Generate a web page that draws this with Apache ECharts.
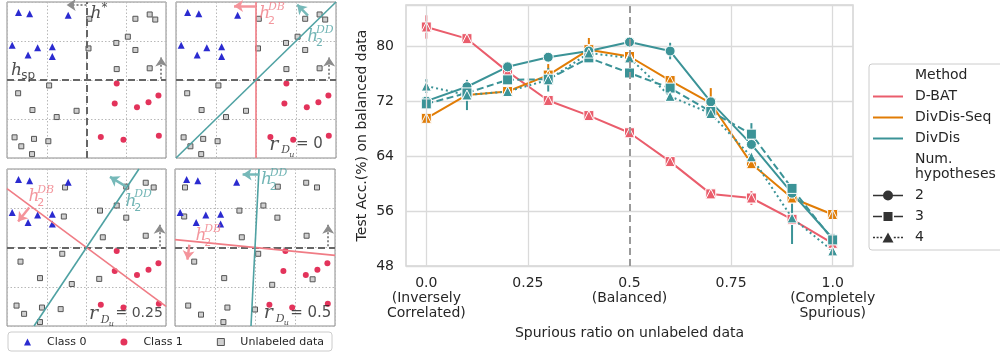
<!DOCTYPE html>
<html>
<head>
<meta charset="utf-8">
<script src="https://cdn.jsdelivr.net/npm/echarts@6/dist/echarts.min.js"></script>
<style>
  html, body { margin: 0; padding: 0; background: #fff; }
  #chart { width: 1000px; height: 354px; }
</style>
</head>
<body>
<div id="chart"></div>
<script>
// ---------- right panel: accuracy vs spurious ratio ----------
const ratios = [0, 0.1, 0.2, 0.3, 0.4, 0.5, 0.6, 0.7, 0.8, 0.9, 1.0];
const xTicks = [0, 0.25, 0.5, 0.75, 1.0];
const xTickText = ['0.0\n(Inversely\nCorrelated)', '0.25', '0.5\n(Balanced)', '0.75', '1.0\n(Completely\nSpurious)'];

const dbatAcc = [82.8, 81.1, 76.3, 72.1, 69.9, 67.4, 63.2, 58.5, 57.9, 54.8, 51.3];
const dbatErr = [1.7, 0.3, 0.3, 0.3, 0.4, 0.3, 0.3, 0.3, 1.0, 0.4, 0.3];
const seqAcc = [69.5, 72.9, 73.4, 75.8, 79.5, 78.5, 75.0, 71.7, 62.9, 57.9, 55.5];
const seqErr = [0.4, 0.3, 0.4, 1.6, 1.7, 0.4, 0.4, 2.2, 0.4, 0.5, 0.3];
const div2Acc = [72.0, 74.1, 77.0, 78.4, 79.3, 80.6, 79.3, 71.9, 65.7, 58.6, 52.0];
const div2Err = [0.3, 0.4, 0.4, 0.3, 0.3, 0.3, 1.2, 0.4, 0.5, 0.5, 0.4];
const div3Acc = [71.6, 73.2, 75.1, 75.2, 78.3, 76.1, 73.9, 70.5, 67.2, 59.3, 51.8];
const div3Err = [0.5, 0.3, 0.4, 0.4, 0.4, 0.4, 0.4, 0.3, 1.6, 0.7, 0.7];
const div4Acc = [74.2, 72.9, 73.4, 75.1, 79.0, 78.3, 72.7, 70.2, 63.9, 55.0, 50.2];
const div4Err = [1.0, 2.2, 0.6, 1.7, 0.4, 0.3, 0.4, 0.4, 0.4, 3.8, 0.3];

// ---------- left panels: toy 2D data ----------
const class0 = [[0.29, 3.73], [0.57, 3.70], [1.54, 3.66], [0.13, 2.89], [0.77, 2.83], [1.14, 2.85], [0.53, 2.64], [1.14, 2.60]];
const class1 = [[2.76, 1.91], [2.71, 1.40], [3.27, 1.30], [3.56, 1.43], [3.81, 1.60], [2.36, 0.54], [2.93, 0.47], [3.82, 0.57]];
const unlabeledA = [[2.07, 3.57], [3.23, 3.57], [3.59, 3.68], [3.73, 3.55], [3.04, 3.11], [2.75, 2.95], [2.05, 2.81], [3.23, 2.77], [2.76, 2.28], [3.59, 2.30],
  [0.28, 1.66], [1.06, 1.86], [0.64, 1.23], [1.75, 1.21], [1.25, 1.05], [0.19, 0.53], [0.68, 0.49], [1.04, 0.43], [0.36, 0.30], [0.63, 0.10]];
const unlabeledB = [[1.46, 3.53], [3.49, 3.65], [3.69, 3.53], [3.0, 3.55], [2.76, 3.07], [2.34, 2.94], [1.43, 2.79], [3.0, 2.76], [2.41, 2.26], [3.49, 2.30],
  [1.39, 1.84], [0.34, 1.64], [0.83, 1.22], [1.63, 1.07], [2.32, 1.20], [0.24, 0.52], [0.88, 0.47], [1.35, 0.43], [0.43, 0.31], [0.83, 0.10]];
const unlabeledC = [[0.25, 3.53], [2.57, 3.55], [3.28, 3.65], [3.55, 3.53], [2.21, 3.07], [1.61, 2.94], [0.23, 2.79], [2.56, 2.76], [1.67, 2.26], [3.29, 2.30],
  [2.08, 1.84], [0.48, 1.64], [1.23, 1.22], [2.43, 1.05], [3.44, 1.19], [0.33, 0.52], [1.31, 0.47], [0.65, 0.29], [2.0, 0.42], [1.21, 0.10]];
const unlabeledByPanel = [unlabeledA, unlabeledA, unlabeledB, unlabeledC];

// hypotheses: [panel, x1, y1, x2, y2, kind]
const panelLines = [
  [0, 2, 0, 2, 4, 'axis'],
  [0, 0, 2, 4, 2, 'axis'], [1, 0, 2, 4, 2, 'axis'], [2, 0, 2, 4, 2, 'axis'], [3, 0, 2, 4, 2, 'axis'],
  [1, 2, 0, 2, 4, 'db'], [1, 0, 0, 4, 4, 'dd'],
  [2, 0, 3.5, 4, 0.5, 'db'], [2, 0.68, 0, 3.32, 4, 'dd'],
  [3, 0, 2.2, 4, 1.8, 'db'], [3, 1.9, 0, 2.1, 4, 'dd']
];
const panelArrows = [
  [0, 2.0, 3.92, 1.5, 3.92, 'gray'], [0, 3.88, 2.03, 3.88, 2.58, 'gray'],
  [1, 2.0, 3.9, 1.45, 3.9, 'dbArrow'], [1, 3.3, 3.65, 3.03, 3.93, 'ddArrow'], [1, 3.83, 2.03, 3.83, 2.58, 'gray'],
  [2, 3.0, 3.55, 2.59, 3.8, 'ddArrow'], [2, 0.56, 3.02, 0.28, 2.66, 'dbArrow'], [2, 3.84, 2.03, 3.84, 2.58, 'gray'],
  [3, 2.11, 3.86, 1.69, 3.86, 'ddArrow'], [3, 0.36, 2.07, 0.31, 1.69, 'dbArrow'], [3, 3.83, 2.03, 3.83, 2.58, 'gray']
];
// text pieces: [panel, x, y, text, size, colour, font]
const annotations = [
  [0, 2.1, 3.7, 'h', 17, 'k', 'it'], [0, 2.38, 3.86, '*', 12, 'k', 'rm'],
  [0, 0.1, 2.24, 'h', 17, 'k', 'it'], [0, 0.36, 2.1, 'sp', 12, 'k', 'rm'],
  [1, 2.08, 3.7, 'h', 17, 'r', 'it'], [1, 2.3, 3.87, 'DB', 11, 'r', 'it'], [1, 2.3, 3.52, '2', 11, 'r', 'rm'],
  [1, 3.28, 3.12, 'h', 17, 't', 'it'], [1, 3.5, 3.29, 'DD', 11, 't', 'it'], [1, 3.5, 2.94, '2', 11, 't', 'rm'],
  [1, 2.33, 0.33, 'r', 19, 'k', 'it'], [1, 2.63, 0.19, 'D', 11, 'k', 'it'], [1, 2.83, 0.09, 'u', 8, 'k', 'it'], [1, 3.0, 0.35, '= 0', 15, 'k', 'rm'],
  [2, 0.54, 3.3, 'h', 17, 'r', 'it'], [2, 0.76, 3.47, 'DB', 11, 'r', 'it'], [2, 0.76, 3.12, '2', 11, 'r', 'rm'],
  [2, 2.98, 3.18, 'h', 17, 't', 'it'], [2, 3.2, 3.35, 'DD', 11, 't', 'it'], [2, 3.2, 3.0, '2', 11, 't', 'rm'],
  [2, 2.06, 0.3, 'r', 19, 'k', 'it'], [2, 2.36, 0.16, 'D', 11, 'k', 'it'], [2, 2.56, 0.06, 'u', 8, 'k', 'it'], [2, 2.73, 0.32, '= 0.25', 14, 'k', 'rm'],
  [3, 2.15, 3.72, 'h', 17, 't', 'it'], [3, 2.37, 3.89, 'DD', 11, 't', 'it'], [3, 2.37, 3.54, '2', 11, 't', 'rm'],
  [3, 0.51, 2.3, 'h', 17, 'r', 'it'], [3, 0.73, 2.47, 'DB', 11, 'r', 'it'], [3, 0.73, 2.12, '2', 11, 'r', 'rm'],
  [3, 2.22, 0.32, 'r', 19, 'k', 'it'], [3, 2.52, 0.18, 'D', 11, 'k', 'it'], [3, 2.72, 0.08, 'u', 8, 'k', 'it'], [3, 2.88, 0.34, '= 0.5', 15, 'k', 'rm']
];

const RED = '#ea5d6c', ORANGE = '#e17c05', TEAL = '#3b9397', INK = '#262626';
const textColors = { k: '#222', r: '#f07c85', t: '#4fa2a3' };
const lineStyles = {
  axis: { color: '#666', width: 2, type: [7, 4] },
  db: { color: '#f07c85', width: 1.6, type: 'solid' },
  dd: { color: '#4fa2a3', width: 1.6, type: 'solid' },
  gray: { color: '#8c8c8c', width: 2, type: [2, 2] },
  dbArrow: { color: '#f4949b', width: 2.5, type: 'solid' },
  ddArrow: { color: '#76b9b9', width: 2.5, type: 'solid' }
};

const panelBoxes = [
  { left: 7, top: 2, width: 159, height: 156 },
  { left: 176, top: 2, width: 160, height: 156 },
  { left: 7, top: 169, width: 159, height: 157 },
  { left: 175, top: 169, width: 160, height: 157 }
];

const grids = panelBoxes.map(b => Object.assign({ show: true, borderColor: '#8c8c8c', borderWidth: 1, backgroundColor: '#fff' }, b));
grids.push({ left: 406, top: 5, width: 447, height: 261, show: true, borderColor: '#d4d4d4', borderWidth: 1.5 });

const xAxes = [], yAxes = [];
for (let p = 0; p < 4; p++) {
  const ax = {
    gridIndex: p, type: 'value', min: 0, max: 4, interval: 1,
    axisLine: { show: false }, axisTick: { show: false }, axisLabel: { show: false },
    splitLine: { lineStyle: { color: '#b8b8b8', type: [1.5, 2], width: 1 } }
  };
  xAxes.push(Object.assign({}, ax));
  yAxes.push(Object.assign({}, ax));
}
xAxes.push({
  gridIndex: 4, type: 'value', min: -0.05, max: 1.05, interval: 0.05,
  axisLine: { show: false }, axisTick: { show: false }, splitLine: { show: false },
  axisLabel: {
    color: INK, fontSize: 14, lineHeight: 15, margin: 10,
    formatter: v => {
      const i = xTicks.findIndex(t => Math.abs(t - v) < 1e-6);
      return i >= 0 ? xTickText[i] : '';
    }
  },
  name: 'Spurious ratio on unlabeled data', nameLocation: 'middle', nameGap: 60,
  nameTextStyle: { color: INK, fontSize: 14 }
});
yAxes.push({
  gridIndex: 4, type: 'value', min: 48, max: 86, interval: 8,
  axisLine: { show: false }, axisTick: { show: false },
  axisLabel: { color: INK, fontSize: 14, margin: 12, showMaxLabel: false },
  splitLine: { lineStyle: { color: '#dadada', width: 1.3 } },
  name: 'Test Acc.(%) on balanced data', nameLocation: 'middle', nameGap: 37,
  nameTextStyle: { color: INK, fontSize: 14 }
});

const series = [];

// ---- left panels ----
for (let p = 0; p < 4; p++) {
  const mk = [];
  panelLines.filter(l => l[0] === p).forEach(l => {
    mk.push([{ coord: [l[1], l[2]], symbol: 'none', lineStyle: lineStyles[l[5]] }, { coord: [l[3], l[4]], symbol: 'none' }]);
  });
  panelArrows.filter(a => a[0] === p).forEach(a => {
    mk.push([{ coord: [a[1], a[2]], symbol: 'none', lineStyle: lineStyles[a[5]] }, { coord: [a[3], a[4]], symbol: 'arrow' }]);
  });
  series.push({
    type: 'line', xAxisIndex: p, yAxisIndex: p, data: [], z: 1, silent: true,
    markLine: { silent: true, symbolSize: 9, label: { show: false }, emphasis: { disabled: true }, data: mk }
  });
  series.push({
    name: 'Unlabeled data', type: 'scatter', xAxisIndex: p, yAxisIndex: p, z: 3,
    data: unlabeledByPanel[p], symbol: 'rect', symbolSize: 5,
    itemStyle: { color: '#d0d0d0', borderColor: '#555', borderWidth: 1, opacity: 1 }
  });
  series.push({
    name: 'Class 0', type: 'scatter', xAxisIndex: p, yAxisIndex: p, z: 3,
    data: class0, symbol: 'triangle', symbolSize: 7,
    itemStyle: { color: '#2b2bd0', opacity: 1 }
  });
  series.push({
    name: 'Class 1', type: 'scatter', xAxisIndex: p, yAxisIndex: p, z: 3,
    data: class1, symbol: 'circle', symbolSize: 6,
    itemStyle: { color: '#e3335b', opacity: 1 }
  });
  series.push({
    type: 'scatter', xAxisIndex: p, yAxisIndex: p, z: 5, silent: true,
    symbolSize: 1, itemStyle: { color: 'rgba(0,0,0,0)' },
    data: annotations.filter(a => a[0] === p).map(a => ({
      value: [a[1], a[2]],
      label: {
        show: true, position: 'inside', align: 'left', verticalAlign: 'middle',
        formatter: a[3], fontSize: a[4], color: textColors[a[5]],
        fontFamily: a[6] === 'it' ? 'DejaVu Serif' : 'DejaVu Sans',
        fontStyle: a[6] === 'it' ? 'italic' : 'normal'
      }
    }))
  });
}

// ---- right panel ----
series.push({
  type: 'line', xAxisIndex: 4, yAxisIndex: 4, data: [], z: 1, silent: true,
  markLine: {
    silent: true, symbol: 'none', label: { show: false }, emphasis: { disabled: true },
    data: xTicks.map(t => ({
      xAxis: t,
      lineStyle: t === 0.5 ? { color: '#9a9a9a', width: 2, type: [7, 4] } : { color: '#dadada', width: 1.3, type: 'solid' }
    }))
  }
});

function errBars(vals, errs, color) {
  return {
    type: 'custom', xAxisIndex: 4, yAxisIndex: 4, silent: true, z: 2,
    encode: { x: 0, y: [1, 2] },
    data: ratios.map((r, i) => [r, vals[i] - errs[i], vals[i] + errs[i]]),
    renderItem: (params, api) => {
      const lo = api.coord([api.value(0), api.value(1)]);
      const hi = api.coord([api.value(0), api.value(2)]);
      return { type: 'line', shape: { x1: lo[0], y1: lo[1], x2: hi[0], y2: hi[1] }, style: { stroke: color, lineWidth: 2 } };
    }
  };
}
function accLine(name, vals, color, symbol, dash) {
  return {
    name, type: 'line', xAxisIndex: 4, yAxisIndex: 4, z: 2,
    data: ratios.map((r, i) => [r, vals[i]]),
    symbol, symbolSize: 10, showAllSymbol: true,
    lineStyle: { color, width: 2, type: dash },
    itemStyle: { color, borderColor: '#fff', borderWidth: 1 },
    emphasis: { disabled: true }
  };
}
function triOverlay(vals, color) {
  return {
    type: 'scatter', xAxisIndex: 4, yAxisIndex: 4, z: 2,
    data: ratios.map((r, i) => [r, vals[i]]),
    symbol: 'triangle', symbolSize: 10,
    itemStyle: { color, borderColor: '#fff', borderWidth: 1, opacity: 1 },
    emphasis: { disabled: true }
  };
}

series.push(errBars(dbatAcc, dbatErr, RED));
series.push(accLine('D-BAT', dbatAcc, RED, 'rect', 'solid'));
series.push(triOverlay(dbatAcc, RED));
series.push(errBars(seqAcc, seqErr, ORANGE));
series.push(accLine('DivDis-Seq', seqAcc, ORANGE, 'rect', 'solid'));
series.push(triOverlay(seqAcc, ORANGE));
series.push(errBars(div2Acc, div2Err, TEAL));
series.push(errBars(div3Acc, div3Err, TEAL));
series.push(errBars(div4Acc, div4Err, TEAL));
series.push(accLine('DivDis', div2Acc, TEAL, 'circle', 'solid'));
series.push(accLine('DivDis 3', div3Acc, TEAL, 'rect', [7, 3.5]));
series.push(accLine('DivDis 4', div4Acc, TEAL, 'triangle', [2, 3]));

// legend-only entries
['Method', 'Num.\nhypotheses'].forEach(n => series.push({
  name: n, type: 'line', xAxisIndex: 4, yAxisIndex: 4, data: [],
  itemStyle: { color: 'rgba(0,0,0,0)' }, lineStyle: { color: 'rgba(0,0,0,0)' }
}));
['2', '3', '4'].forEach(n => series.push({
  name: n, type: 'line', xAxisIndex: 4, yAxisIndex: 4, data: [],
  itemStyle: { color: '#333' }, lineStyle: { color: '#333' }
}));

const lineIcon = 'path://M0,0h30v2h-30z';
const icon2 = 'path://M0,4.2h30v1.6h-30z M20,5a5,5 0 1,1 -10,0a5,5 0 1,1 10,0z';
const icon3 = 'path://M0,4.2h9v1.6h-9z M21,4.2h9v1.6h-9z M10.5,0.5h9v9h-9z';
const icon4 = 'path://M0,4.3h2v1.4h-2z M3.6,4.3h2v1.4h-2z M7.2,4.3h2v1.4h-2z M20.8,4.3h2v1.4h-2z M24.4,4.3h2v1.4h-2z M28,4.3h2v1.4h-2z M15,0L20.5,10L9.5,10z';

const option = {
  animation: false,
  textStyle: { fontFamily: 'DejaVu Sans' },
  grid: grids,
  xAxis: xAxes,
  yAxis: yAxes,
  legend: [
    {
      left: 8, top: 332, orient: 'horizontal', selectedMode: false,
      itemWidth: 7, itemHeight: 7, itemGap: 34,
      padding: [4, 8, 3, 16],
      borderColor: '#cccccc', borderWidth: 1, borderRadius: 3, backgroundColor: '#fff',
      textStyle: { color: INK, fontSize: 11, lineHeight: 12, padding: [0, 0, 0, 11] },
      data: [
        { name: 'Class 0', icon: 'triangle', itemStyle: { color: '#2b2bd0', borderWidth: 0 } },
        { name: 'Class 1', icon: 'circle', itemStyle: { color: '#e3335b', borderWidth: 0 } },
        { name: 'Unlabeled data', icon: 'rect', itemStyle: { color: '#d0d0d0', borderColor: '#555', borderWidth: 1 } }
      ]
    },
    {
      left: 869, top: 64, orient: 'vertical', selectedMode: false,
      itemWidth: 30, itemHeight: 15, itemGap: 6,
      padding: [4, 10, 5, 4],
      borderColor: '#cccccc', borderWidth: 1, borderRadius: 3, backgroundColor: '#fff',
      itemStyle: { borderWidth: 0 },
      textStyle: { color: INK, fontSize: 14, lineHeight: 15, padding: [0, 0, 0, 7] },
      data: [
        { name: 'Method', icon: 'rect' },
        { name: 'D-BAT', icon: lineIcon },
        { name: 'DivDis-Seq', icon: lineIcon },
        { name: 'DivDis', icon: lineIcon },
        { name: 'Num.\nhypotheses', icon: 'rect' },
        { name: '2', icon: icon2 },
        { name: '3', icon: icon3 },
        { name: '4', icon: icon4 }
      ]
    }
  ],
  series
};

const chart = echarts.init(document.getElementById('chart'));
chart.setOption(option);
</script>
</body>
</html>
